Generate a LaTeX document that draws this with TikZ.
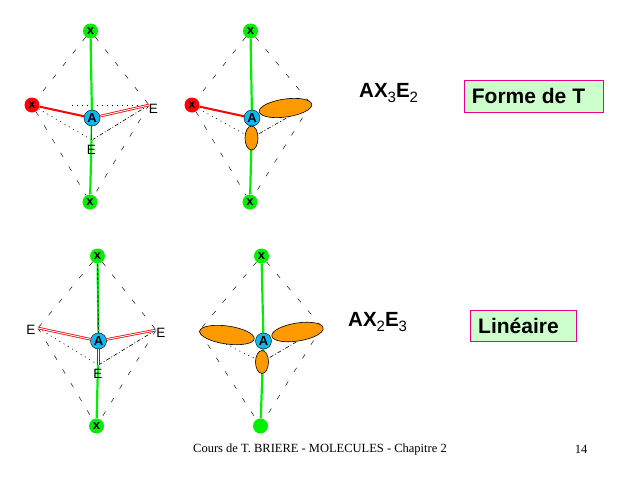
\documentclass[tikz,border=0pt]{standalone}
\usepackage{fontspec}
\setmainfont{Liberation Serif}
\setsansfont{Liberation Sans}
\usepackage{xcolor}
\usetikzlibrary{shapes.geometric}
\usetikzlibrary{backgrounds}
\definecolor{my_green}{HTML}{00F000}
\definecolor{my_blue}{HTML}{10B8F0}
\definecolor{my_orange}{HTML}{FF9900}
\definecolor{my_box}{HTML}{CCFFCC}
\newcommand{\mysub}[1]{\raisebox{-4.5pt}{\fontsize{15}{15}\selectfont\mdseries #1}}
\tikzset{my_molecule/.style={x=1pt,y=-1pt}}
\tikzset{my_atom/.style={circle, inner sep=0pt, minimum size=15pt, font=\sffamily\bfseries\fontsize{13}{13}\selectfont}}
\tikzset{my_x_atom/.style={my_atom, fill=my_green}}
\tikzset{my_red_atom/.style={my_atom, fill=red}}
\tikzset{my_center/.style={my_atom, draw, thin, fill=my_blue, minimum size=16pt}}
\tikzset{my_lobe/.style={ellipse, draw, semithick, fill=my_orange, inner sep=0pt}}
\tikzset{my_e_label/.style={inner sep=0pt, font=\sffamily\fontsize{13.5}{13.5}\selectfont}}
\tikzset{my_green_bond/.style={draw=my_green, line width=2.2pt}}
\tikzset{my_red_bond/.style={draw=red, line width=2pt}}
\tikzset{my_pair_bond/.style={draw=red, line width=0.8pt, double=white, double distance=0.9pt}}
\tikzset{my_edge/.style={draw, line width=0.45pt, dash pattern=on 5pt off 11pt}}
\tikzset{my_dots/.style={draw, line width=0.6pt, dash pattern=on 1pt off 4pt}}
\tikzset{my_formula/.style={inner sep=0pt, font=\sffamily\bfseries\fontsize{20.5}{20.5}\selectfont}}
\tikzset{my_shape_box/.style={draw=magenta, fill=my_box, thick, inner sep=0pt, font=\sffamily\bfseries\fontsize{21}{21}\selectfont}}
\tikzset{my_footer/.style={inner sep=0pt, font=\fontsize{12.5}{12.5}\selectfont}}

\begin{document}
\begin{tikzpicture}[my_molecule]
    \useasboundingbox (0,0) rectangle (640,480);

    % AX3E2, bonds
    \node[my_x_atom] (t1) at (90.5,31) {x};
    \node[my_red_atom] (l1) at (32,105) {x};
    \node[my_x_atom] (b1) at (90,202) {x};
    \node[my_center] (a1) at (92,118) {A};
    \coordinate (r1) at (149,105);
    \coordinate (f1) at (92,140);
    \node[my_e_label] (e1) at (153.5,108.5) {E};
    \node[my_e_label] (e2) at (91.5,150) {E};

    % AX3E2, lobes
    \node[my_x_atom] (t2) at (250.5,31) {x};
    \node[my_red_atom] (l2) at (192,105) {x};
    \node[my_x_atom] (b2) at (250,202) {x};
    \node[my_center] (a2) at (252,118) {A};
    \coordinate (r2) at (311,104);
    \coordinate (f2) at (251.5,138);
    \node[my_lobe, rotate=8, minimum width=53pt, minimum height=18pt] (p1) at (285.5,108) {};
    \node[my_lobe, minimum width=13pt, minimum height=24pt] (p2) at (f2) {};

    % AX2E3, bonds
    \node[my_x_atom] (t3) at (97.5,256) {x};
    \node[my_x_atom] (b3) at (96.5,426) {x};
    \node[my_center] (a3) at (98.5,341) {A};
    \coordinate (l3) at (38,328);
    \coordinate (r3) at (156,330);
    \coordinate (f3) at (98.5,365);
    \node[my_e_label] (e3) at (31,330) {E};
    \node[my_e_label] (e4) at (161,332.5) {E};
    \node[my_e_label] (e5) at (98,373.5) {E};

    % AX2E3, lobes
    \node[my_x_atom] (t4) at (261.5,256) {x};
    \node[my_atom, fill=my_green] (b4) at (260.5,426) {};
    \node[my_center] (a4) at (263.5,341) {A};
    \coordinate (l4) at (199,331);
    \coordinate (r4) at (322,327);
    \coordinate (f4) at (262,362);
    \node[my_lobe, rotate=-8, minimum width=55pt, minimum height=18pt] (p3) at (227,335) {};
    \node[my_lobe, rotate=9, minimum width=52pt, minimum height=18pt] (p4) at (297.5,332) {};
    \node[my_lobe, minimum width=13pt, minimum height=23pt] (p5) at (f4) {};

    \begin{scope}[on background layer]
    \path
        (t1) edge [my_edge] (l1)
        (t1) edge [my_edge] (r1)
        (l1) edge [my_edge] (b1)
        (r1) edge [my_edge] (b1)
        (l1) edge [my_dots] (f1)
        (f1) edge [my_dots, dash pattern=on 4pt off 2pt on 1pt off 2pt] (r1)
        (l1) edge [my_dots, shorten <=32pt] (r1)
        (t1) edge [my_green_bond] (a1)
        (a1) edge [my_green_bond] (b1)
        (l1) edge [my_red_bond] (a1)
        (a1) edge [my_pair_bond] (r1)
        (a1) edge [my_pair_bond] (f1)

        (t2) edge [my_edge] (l2)
        (t2) edge [my_edge] (r2)
        (l2) edge [my_edge] (b2)
        (r2) edge [my_edge] (b2)
        (l2) edge [my_dots] (f2)
        (f2) edge [my_dots, dash pattern=on 4pt off 2pt on 1pt off 2pt] (r2)
        (t2) edge [my_green_bond] (a2)
        (a2) edge [my_green_bond] (b2)
        (l2) edge [my_red_bond] (a2)

        (t3) edge [my_edge] (l3)
        (t3) edge [my_edge] (r3)
        (l3) edge [my_edge] (b3)
        (r3) edge [my_edge] (b3)
        (l3) edge [my_dots] (f3)
        (f3) edge [my_dots, dash pattern=on 4pt off 2pt on 1pt off 2pt] (r3)
        (t3) edge [my_green_bond] (a3)
        (t3) edge [draw, line width=0.6pt, dash pattern=on 3pt off 1.5pt] (a3)
        (a3) edge [my_green_bond] (b3)
        (a3) edge [my_pair_bond] (l3)
        (a3) edge [my_pair_bond] (r3)
        (a3) edge [my_pair_bond] (f3)

        (t4) edge [my_edge] (l4)
        (t4) edge [my_edge] (r4)
        (l4) edge [my_edge] (b4)
        (r4) edge [my_edge] (b4)
        (l4) edge [my_dots] (f4)
        (f4) edge [my_dots, dash pattern=on 4pt off 2pt on 1pt off 2pt] (r4)
        (t4) edge [my_green_bond] (a4)
        (a4) edge [my_green_bond] (b4)
    ;
    \end{scope}

    \node[my_formula, anchor=west] (n1) at (359,93) {AX\mysub{3}E\mysub{2}};
    \node[my_formula, anchor=west] (n2) at (348,322) {AX\mysub{2}E\mysub{3}};
    \node[my_shape_box, minimum width=139pt, minimum height=32pt] (s1) at (533.5,96) {Forme de T\hspace*{10pt}};
    \node[my_shape_box, minimum width=106pt, minimum height=31pt] (s2) at (523.5,325.5) {Linéaire\hspace*{10pt}};
    \node[my_footer] (c1) at (320,449) {Cours de T. BRIERE - MOLECULES - Chapitre 2};
    \node[my_footer] (c2) at (581,449) {14};
\end{tikzpicture}
\end{document}
